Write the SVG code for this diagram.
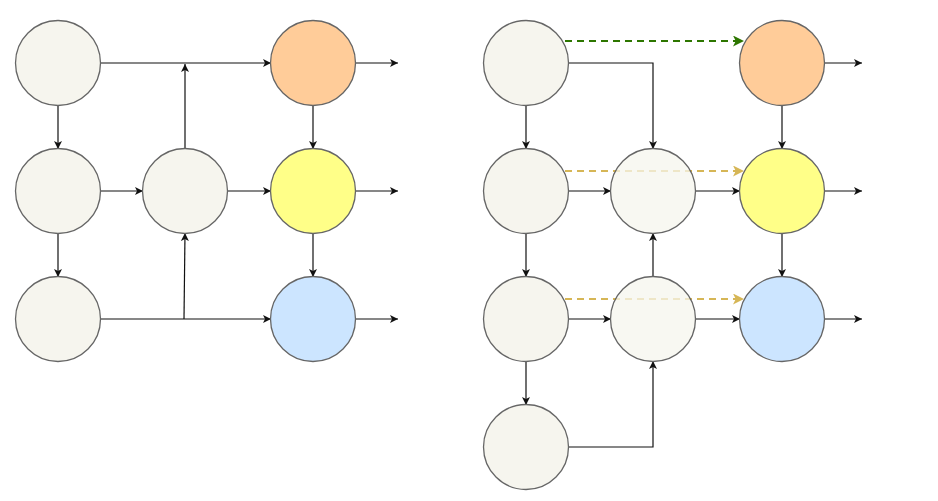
<svg xmlns="http://www.w3.org/2000/svg" width="938" height="501" viewBox="0 0 938 501">
<style>
.n{stroke:#666;stroke-width:1.3;fill:#f6f5ee}
.o{fill:#ffcc99}.y{fill:#ffff88}.b{fill:#cce5ff}
.e{fill:none;stroke:#111;stroke-width:1.2;marker-end:url(#a)}
.g{fill:none;stroke:#2d7600;stroke-width:2;stroke-dasharray:7 5;marker-end:url(#ag)}
.d{fill:none;stroke:#d6b656;stroke-width:2.2;stroke-dasharray:7 5;marker-end:url(#ad)}
</style>
<defs>
<marker id="a" viewBox="0 0 10 10" refX="10" refY="5" markerWidth="8" markerHeight="8" markerUnits="userSpaceOnUse" orient="auto"><path d="M0,0 L10,5 L0,10 L2.5,5 Z" fill="#111"/></marker>
<marker id="ag" viewBox="0 0 10 10" refX="10" refY="5" markerWidth="11" markerHeight="11" markerUnits="userSpaceOnUse" orient="auto"><path d="M0,0 L10,5 L0,10 L2.5,5 Z" fill="#2d7600"/></marker>
<marker id="ad" viewBox="0 0 10 10" refX="10" refY="5" markerWidth="11" markerHeight="11" markerUnits="userSpaceOnUse" orient="auto"><path d="M0,0 L10,5 L0,10 L2.5,5 Z" fill="#d6b656"/></marker>
</defs>
<g id="connectors">
<path class="e" d="M100,63 H271"/>
<path class="e" d="M185,149 V64"/>
<path class="e" d="M355,63 H398"/>
<path class="e" d="M58,105 V149"/>
<path class="e" d="M313,105 V149"/>
<path class="e" d="M100,191 H143"/>
<path class="e" d="M227,191 H271"/>
<path class="e" d="M355,191 H398"/>
<path class="e" d="M58,233 V277"/>
<path class="e" d="M313,233 V277"/>
<path class="e" d="M100,319 H271"/>
<path class="e" d="M184,319 L185,233"/>
<path class="e" d="M355,319 H398"/>
<path class="e" d="M568,63 H653 V149"/>
<path class="e" d="M825,63 H862"/>
<path class="e" d="M526,105 V149"/>
<path class="e" d="M782,105 V149"/>
<path class="e" d="M568,191 H611"/>
<path class="e" d="M695,191 H740"/>
<path class="e" d="M825,191 H862"/>
<path class="e" d="M526,233 V277"/>
<path class="e" d="M782,233 V277"/>
<path class="e" d="M568,319 H611"/>
<path class="e" d="M695,319 H740"/>
<path class="e" d="M825,319 H862"/>
<path class="e" d="M653,277 V233"/>
<path class="e" d="M526,361 V405"/>
<path class="e" d="M568,447 H653 V361"/>
<path class="g" d="M565,41 H744"/>
<path class="d" d="M565,171 H744"/>
<path class="d" d="M565,299 H744"/>
</g>
<g id="L11"><circle class="n" cx="58" cy="63" r="42.5"/></g>
<g id="L13"><circle class="n o" cx="313" cy="63" r="42.5"/></g>
<g id="L21"><circle class="n" cx="58" cy="191" r="42.5"/></g>
<g id="L22"><circle class="n" cx="185" cy="191" r="42.5"/></g>
<g id="L23"><circle class="n y" cx="313" cy="191" r="42.5"/></g>
<g id="L31"><circle class="n" cx="58" cy="319" r="42.5"/></g>
<g id="L33"><circle class="n b" cx="313" cy="319" r="42.5"/></g>
<g id="R11"><circle class="n" cx="526" cy="63" r="42.5"/></g>
<g id="R13"><circle class="n o" cx="782" cy="63" r="42.5"/></g>
<g id="R21"><circle class="n" cx="526" cy="191" r="42.5"/></g>
<g id="R22"><circle class="n" cx="653" cy="191" r="42.5" fill-opacity="0.75"/></g>
<g id="R23"><circle class="n y" cx="782" cy="191" r="42.5"/></g>
<g id="R31"><circle class="n" cx="526" cy="319" r="42.5"/></g>
<g id="R32"><circle class="n" cx="653" cy="319" r="42.5" fill-opacity="0.75"/></g>
<g id="R33"><circle class="n b" cx="782" cy="319" r="42.5"/></g>
<g id="R41"><circle class="n" cx="526" cy="447" r="42.5"/></g>
</svg>
